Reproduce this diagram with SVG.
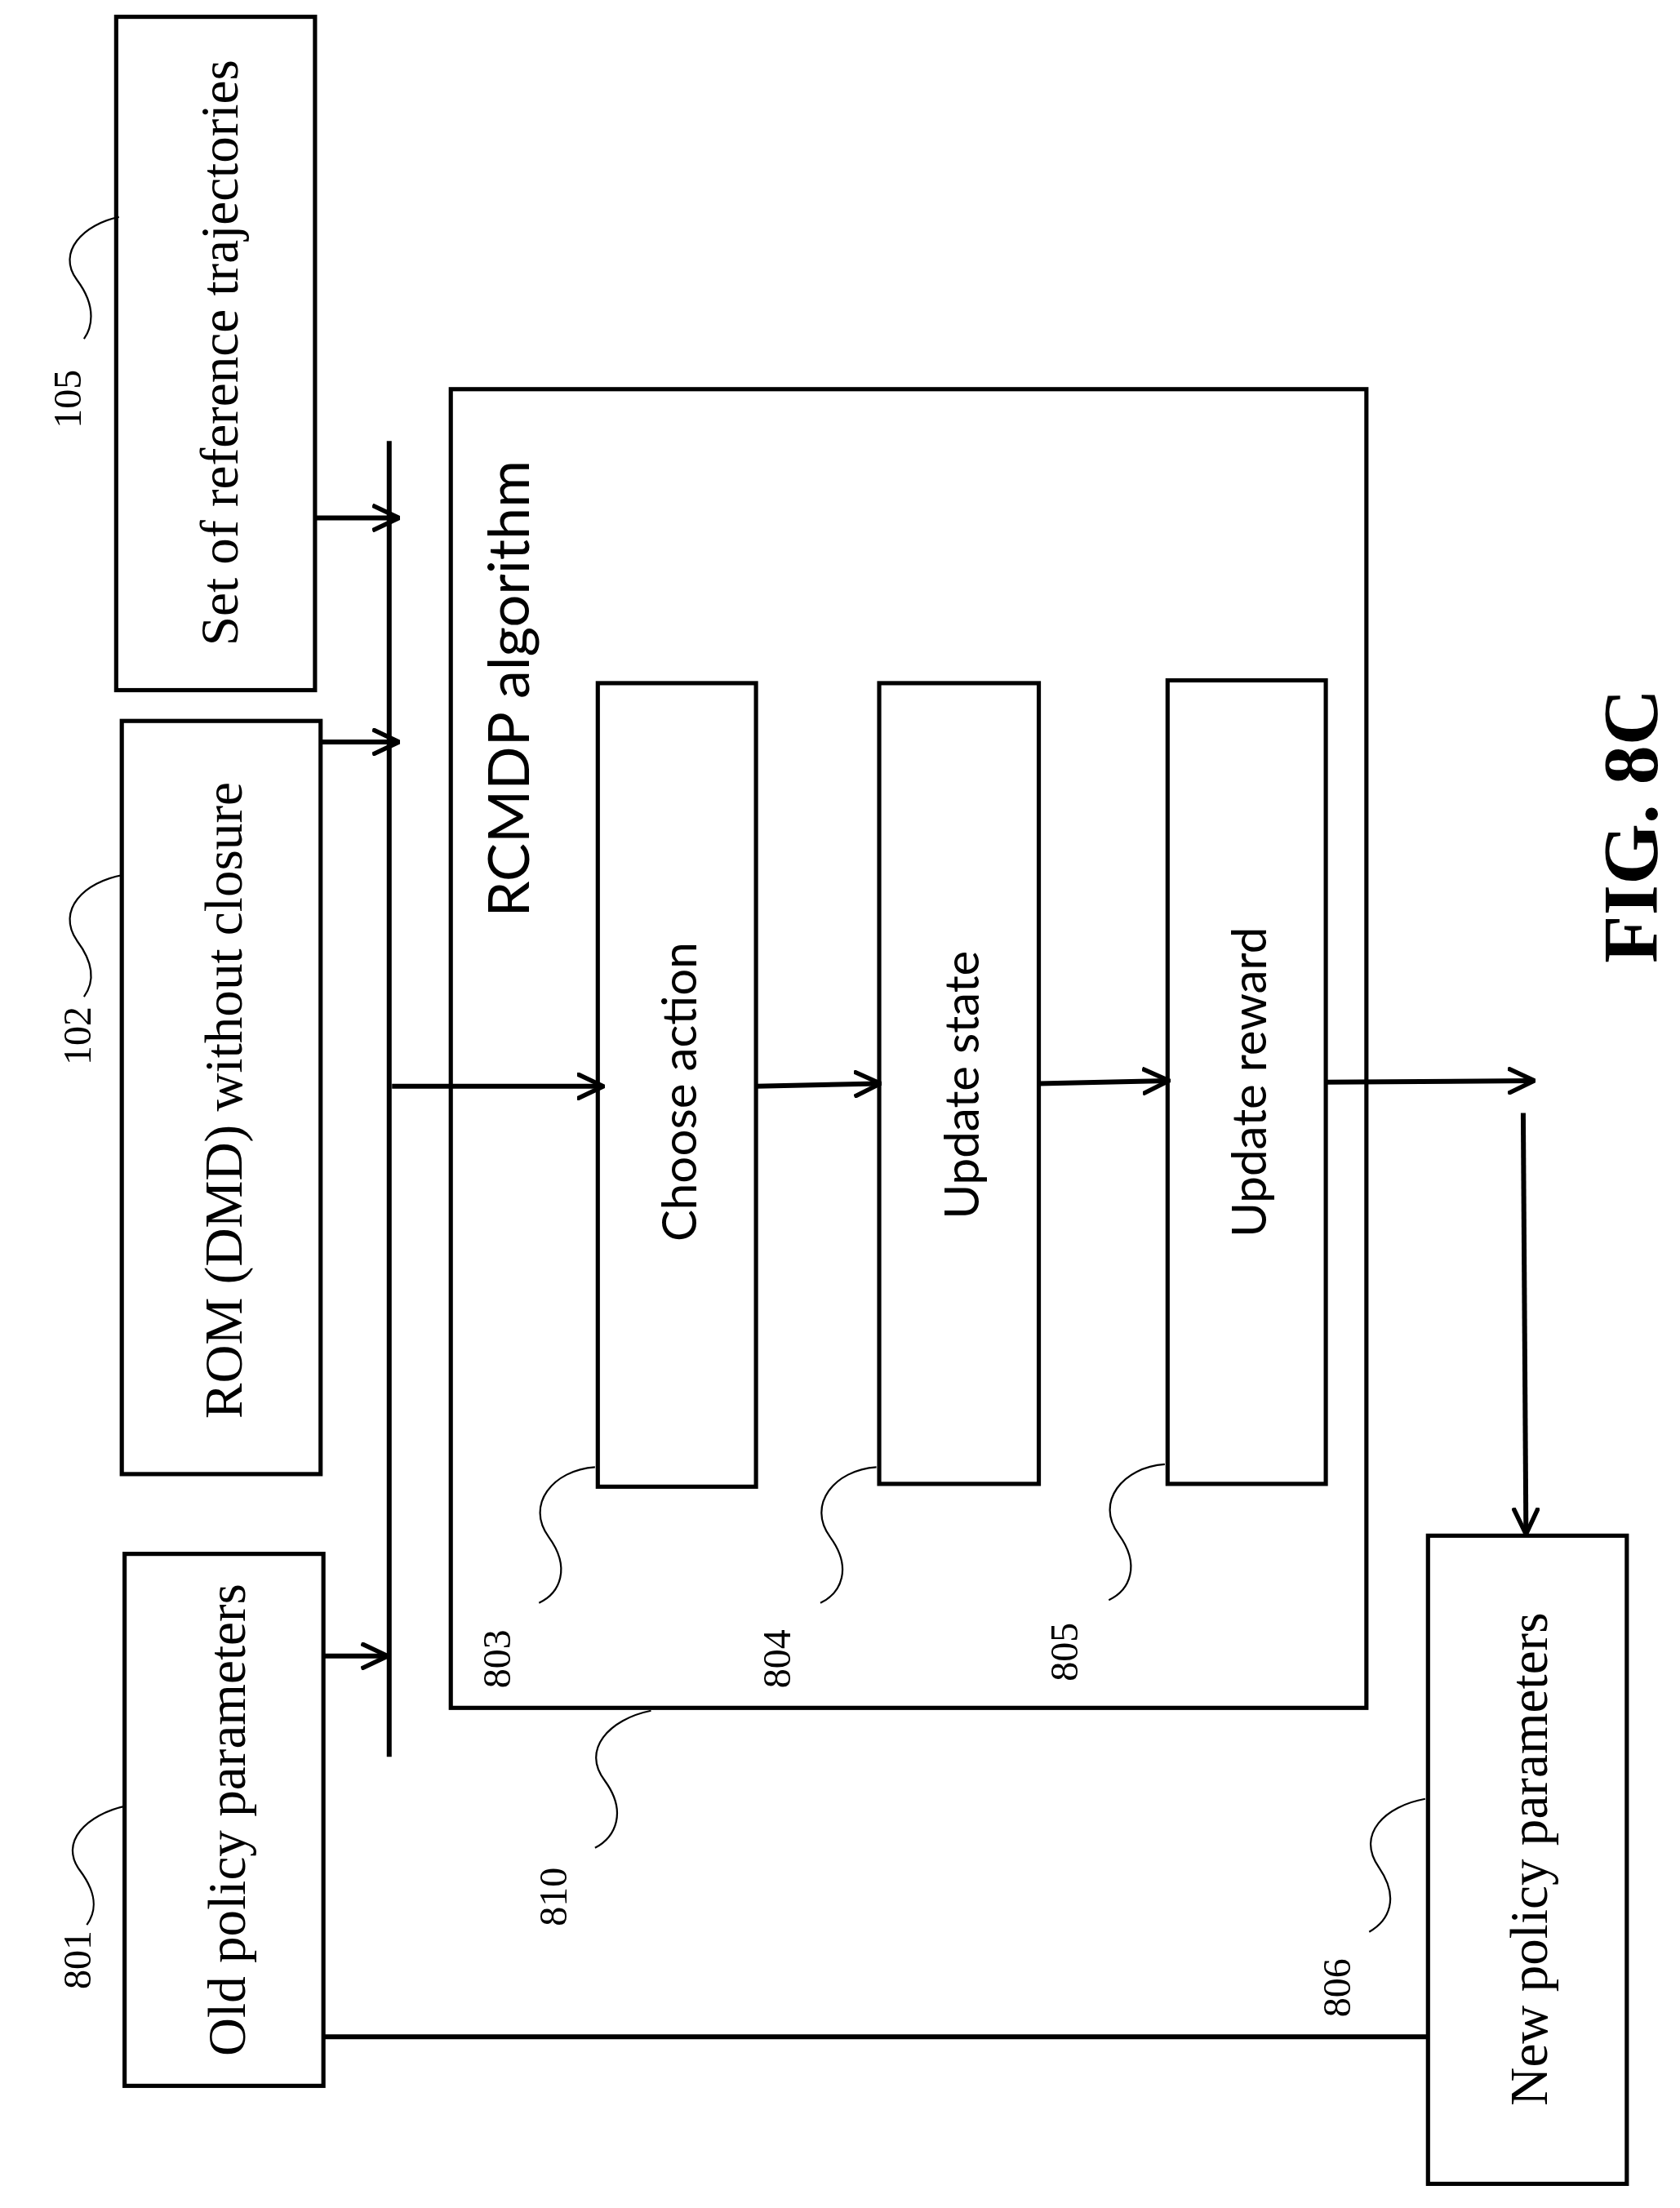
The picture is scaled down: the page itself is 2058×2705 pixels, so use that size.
<svg xmlns="http://www.w3.org/2000/svg" width="2058" height="2705" viewBox="0 0 2058 2705">
<style>
.b{fill:none;stroke:#000;stroke-width:3}
.l{fill:none;stroke:#000;stroke-width:3.5}
.s{fill:none;stroke:#000;stroke-width:1.3}
.t{font-family:"Liberation Serif",serif;font-size:38px;text-anchor:middle;dominant-baseline:central}
.c{font-family:Lato,"Open Sans",sans-serif;font-size:34px;text-anchor:middle;dominant-baseline:central}
.n{font-family:"Liberation Serif",serif;font-size:28px;text-anchor:middle;dominant-baseline:central}
</style>
<defs><marker id="a" viewBox="0 0 10 10" refX="9" refY="5" markerWidth="20" markerHeight="20" orient="auto" markerUnits="userSpaceOnUse"><path d="M0,0.5 L9.5,5 L0,9.5" fill="none" stroke="#000" stroke-width="1.6"/></marker></defs>
<rect width="2058" height="2705" fill="#fff"/>
<g transform="scale(1.715)">
<g id="n105"><rect class="b" x="83" y="12" width="142" height="481"/><text class="t" transform="translate(157,252) rotate(-90)">Set of reference trajectories</text></g>
<g id="n102"><rect class="b" x="87" y="515" width="142" height="538"/><text class="t" transform="translate(160,786) rotate(-90)">ROM (DMD) without closure</text></g>
<g id="n801"><rect class="b" x="89" y="1110" width="142" height="380"/><text class="t" transform="translate(162,1300) rotate(-90)">Old policy parameters</text></g>
<g id="n810"><rect class="b" x="322" y="278" width="654" height="942"/><text font-family="Lato,'Open Sans',sans-serif" font-size="41" text-anchor="middle" dominant-baseline="central" transform="translate(362,492) rotate(-90)">RCMDP algorithm</text></g>
<g id="n803"><rect class="b" x="427" y="488" width="113" height="574"/><text class="c" transform="translate(484,780) rotate(-90)">Choose action</text></g>
<g id="n804"><rect class="b" x="628" y="488" width="114" height="572"/><text class="c" transform="translate(686,775) rotate(-90)">Update state</text></g>
<g id="n805"><rect class="b" x="834" y="486" width="113" height="574"/><text class="c" transform="translate(891,773) rotate(-90)">Update reward</text></g>
<g id="n806"><rect class="b" x="1020" y="1097" width="142" height="463"/><text class="t" transform="translate(1092,1328) rotate(-90)">New policy parameters</text></g>
<g id="connectors">
<line class="l" x1="278" y1="315" x2="278" y2="1255"/>
<line class="l" x1="225" y1="370" x2="284" y2="370" marker-end="url(#a)"/>
<line class="l" x1="229" y1="530" x2="284" y2="530" marker-end="url(#a)"/>
<line class="l" x1="231" y1="1183" x2="276" y2="1183" marker-end="url(#a)"/>
<line class="l" x1="280" y1="776" x2="430" y2="776" marker-end="url(#a)"/>
<line class="l" x1="540" y1="776" x2="628" y2="774" marker-end="url(#a)"/>
<line class="l" x1="742" y1="774" x2="834" y2="772" marker-end="url(#a)"/>
<line class="l" x1="947" y1="773" x2="1095" y2="772" marker-end="url(#a)"/>
<line class="l" x1="1088" y1="795" x2="1090" y2="1095" marker-end="url(#a)"/>
<line class="l" x1="231" y1="1455" x2="1020" y2="1455"/>
</g>
<g id="labels">
<text class="n" transform="translate(48,285) rotate(-90)">105</text>
<path class="s" d="M85,155 C60,160 40,180 55,200 C70,220 65,235 60,242"/>
<text class="n" transform="translate(55,740) rotate(-90)">102</text>
<path class="s" d="M88,625 C60,630 40,650 55,672 C70,692 65,705 60,712"/>
<text class="n" transform="translate(55,1400) rotate(-90)">801</text>
<path class="s" d="M90,1290 C62,1296 42,1316 57,1336 C72,1356 67,1368 62,1375"/>
<text class="n" transform="translate(355,1185) rotate(-90)">803</text>
<path class="s" d="M425,1048 C395,1050 375,1075 392,1098 C408,1120 400,1138 385,1145"/>
<text class="n" transform="translate(555,1185) rotate(-90)">804</text>
<path class="s" d="M626,1048 C596,1050 576,1075 593,1098 C609,1120 601,1138 586,1145"/>
<text class="n" transform="translate(760,1180) rotate(-90)">805</text>
<path class="s" d="M832,1046 C802,1048 782,1073 799,1096 C815,1118 807,1136 792,1143"/>
<text class="n" transform="translate(395,1355) rotate(-90)">810</text>
<path class="s" d="M465,1222 C435,1228 415,1250 432,1272 C448,1294 440,1312 425,1320"/>
<text class="n" transform="translate(955,1420) rotate(-90)">806</text>
<path class="s" d="M1018,1285 C990,1290 968,1310 985,1334 C1000,1356 992,1372 978,1380"/>
<text font-family="'Liberation Serif',serif" font-weight="bold" font-size="56" text-anchor="middle" dominant-baseline="central" transform="translate(1165,590) rotate(-90)">FIG. 8C</text>
</g>
</g>
</svg>
